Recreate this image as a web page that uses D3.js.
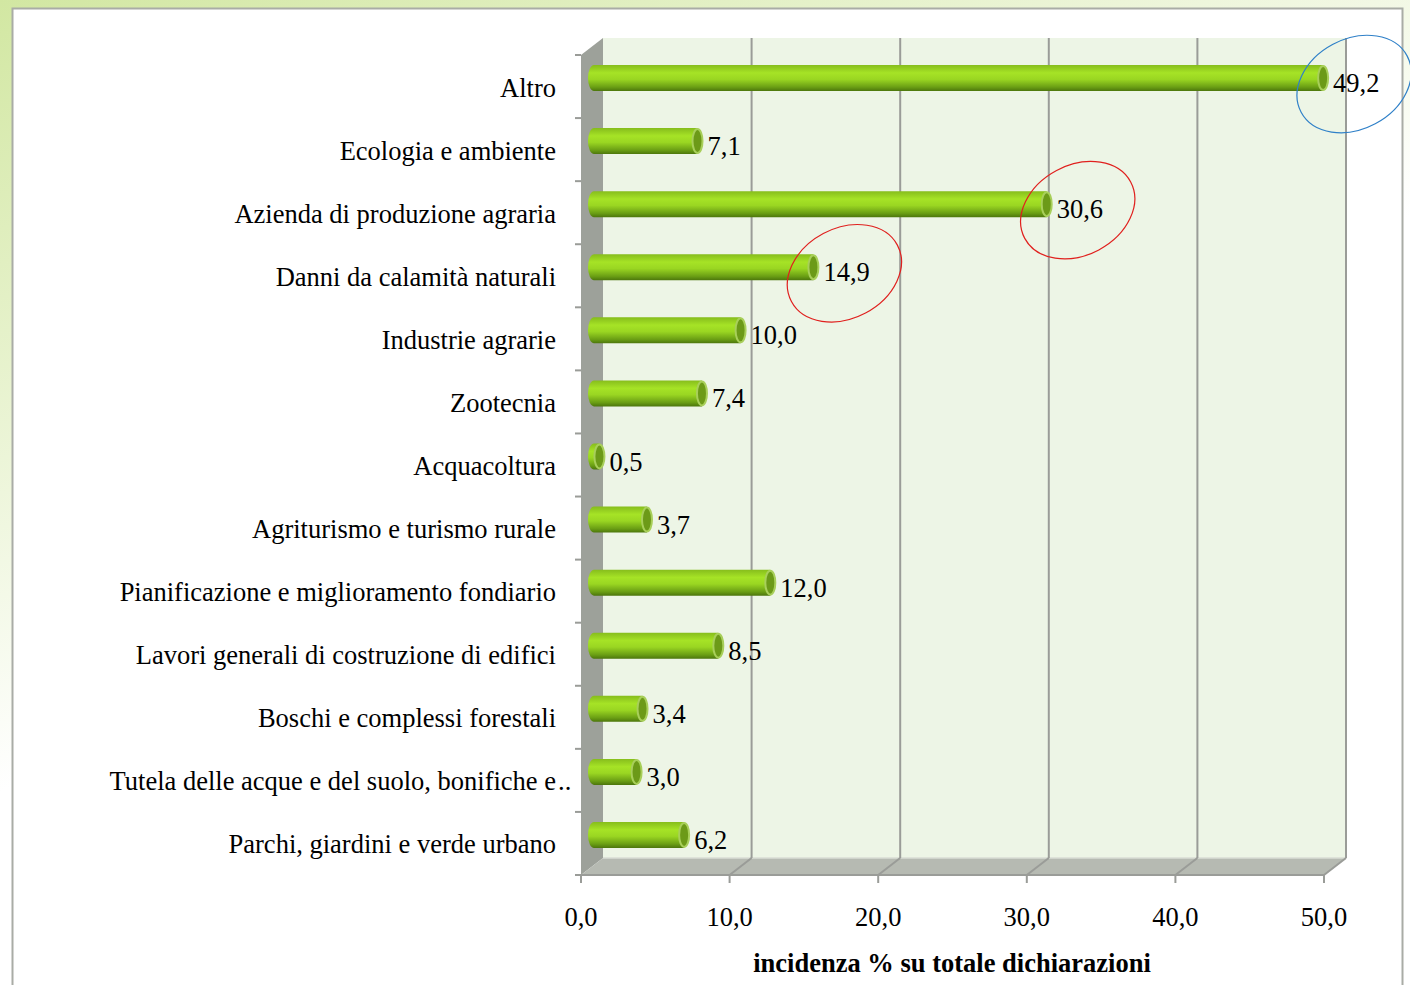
<!DOCTYPE html>
<html>
<head>
<meta charset="utf-8">
<script src="https://cdn.jsdelivr.net/npm/d3@7"></script>
<style>
  body { margin: 0; background: #fff; }
  svg { display: block; }
  text { font-family: 'Liberation Serif', 'Times New Roman', serif; font-size: 26.5px; fill: #000; }
</style>
</head>
<body>
<svg width="1410" height="985"></svg>
<script>
// data
var categories = [
    "Altro",
    "Ecologia e ambiente",
    "Azienda di produzione agraria",
    "Danni da calamità naturali",
    "Industrie agrarie",
    "Zootecnia",
    "Acquacoltura",
    "Agriturismo e turismo rurale",
    "Pianificazione e miglioramento fondiario",
    "Lavori generali di costruzione di edifici",
    "Boschi e complessi forestali",
    "Tutela delle acque e del suolo, bonifiche e..",
    "Parchi, giardini e verde urbano"
];
var values = [49.2, 7.1, 30.6, 14.9, 10.0, 7.4, 0.5, 3.7, 12.0, 8.5, 3.4, 3.0, 6.2];
var xTicks = [0, 10, 20, 30, 40, 50];
var axisTitle = "incidenza % su totale dichiarazioni";
// circled values (index into categories, stroke colour)
var marked = [[0, "#2f80c8"], [2, "#e0201e"], [3, "#e0201e"]];

var svg = d3.select("svg"),
    width = +svg.attr("width"),
    height = +svg.attr("height");

var defs = svg.append("defs");

var bg = defs.append("linearGradient").attr("id", "bgGrad")
    .attr("x1", 0).attr("y1", 0).attr("x2", 0.35).attr("y2", 0.6);
bg.append("stop").attr("offset", "0%").attr("stop-color", "#d2e7a2");
bg.append("stop").attr("offset", "100%").attr("stop-color", "#ffffff");

var barGrad = defs.append("linearGradient").attr("id", "barGrad")
    .attr("x1", 0).attr("y1", 0).attr("x2", 0).attr("y2", 1);
barGrad.append("stop").attr("offset", "0%").attr("stop-color", "#86bd1c");
barGrad.append("stop").attr("offset", "30%").attr("stop-color", "#a6e326");
barGrad.append("stop").attr("offset", "55%").attr("stop-color", "#9ad622");
barGrad.append("stop").attr("offset", "85%").attr("stop-color", "#6a9e14");
barGrad.append("stop").attr("offset", "100%").attr("stop-color", "#4c760c");

// page background and white panel
svg.append("rect").attr("width", width).attr("height", height).attr("fill", "url(#bgGrad)");
svg.append("rect")
    .attr("x", 12.5).attr("y", 8.5).attr("width", 1390).attr("height", 1000)
    .attr("fill", "#fff").attr("stroke", "#a9aca6").attr("stroke-width", 2);

// 3d frame geometry
var dx = 22, dy = -17;
var top0 = 55, bottom0 = 875;

var x = d3.scaleLinear().domain([0, 50]).range([581, 1324]);
var y = d3.scaleBand().domain(categories).range([top0, bottom0]);

var g = svg.append("g");

// back wall
g.append("rect")
    .attr("x", x(0) + dx).attr("y", top0 + dy)
    .attr("width", x(50) - x(0)).attr("height", bottom0 - top0)
    .attr("fill", "#edf5e6");

// left wall
g.append("polygon")
    .attr("points", [[x(0), top0], [x(0) + dx, top0 + dy], [x(0) + dx, bottom0 + dy], [x(0), bottom0]].join(" "))
    .attr("fill", "#9da19a");

// floor
g.append("polygon")
    .attr("points", [[x(0), bottom0], [x(0) + dx, bottom0 + dy], [x(50) + dx, bottom0 + dy], [x(50), bottom0]].join(" "))
    .attr("fill", "#b6bab2");
g.append("line")
    .attr("x1", x(0) + dx).attr("x2", x(50) + dx)
    .attr("y1", bottom0 + dy).attr("y2", bottom0 + dy)
    .attr("stroke", "#d8dcd4").attr("stroke-width", 1.5);

// gridlines on wall and floor
xTicks.slice(1).forEach(function(t) {
    g.append("line")
        .attr("x1", x(t) + dx).attr("x2", x(t) + dx)
        .attr("y1", top0 + dy).attr("y2", bottom0 + dy)
        .attr("stroke", "#9a9c98").attr("stroke-width", 2);
    g.append("line")
        .attr("x1", x(t)).attr("x2", x(t) + dx)
        .attr("y1", bottom0).attr("y2", bottom0 + dy)
        .attr("stroke", "#9a9c98").attr("stroke-width", 2);
});

// axes lines and ticks
g.append("line")
    .attr("x1", x(0) - 6).attr("x2", x(50))
    .attr("y1", bottom0).attr("y2", bottom0)
    .attr("stroke", "#9a9c98").attr("stroke-width", 2);
xTicks.forEach(function(t) {
    g.append("line")
        .attr("x1", x(t)).attr("x2", x(t))
        .attr("y1", bottom0).attr("y2", bottom0 + 8)
        .attr("stroke", "#9a9c98").attr("stroke-width", 2);
});
y.domain().forEach(function(c) {
    g.append("line")
        .attr("x1", x(0) - 6).attr("x2", x(0))
        .attr("y1", y(c)).attr("y2", y(c))
        .attr("stroke", "#9a9c98").attr("stroke-width", 2);
});

var fmt = function(v) { return d3.format(".1f")(v).replace(".", ","); };

// x tick labels
g.selectAll(".xlab").data(xTicks).enter().append("text")
    .attr("x", function(d) { return x(d); })
    .attr("y", 917)
    .attr("text-anchor", "middle")
    .attr("dominant-baseline", "central")
    .text(fmt);

// category labels
g.selectAll(".ylab").data(categories).enter().append("text")
    .attr("x", 556)
    .attr("y", function(d) { return y(d) + y.bandwidth() / 2 + 1; })
    .attr("text-anchor", "end")
    .attr("dominant-baseline", "central")
    .text(function(d) { return d.replace(/\.\.$/, ""); })
    .filter(function(d) { return /\.\.$/.test(d); })
    .each(function() {
        g.append("text")
            .attr("x", 558).attr("y", +d3.select(this).attr("y"))
            .attr("dominant-baseline", "central")
            .text("..");
    });

// cylinder bars at mid depth
var barH = 26, capRx = 6;
var bars = g.selectAll(".bar").data(categories).enter().append("g");
bars.each(function(c, i) {
    var v = values[i];
    var cy = y(c) + y.bandwidth() / 2 + dy / 2;
    var x0 = x(0) + dx / 2 + 2, x1 = x(v) + dx / 2;
    var s = d3.select(this);
    var p = "M" + x1 + "," + (cy - barH / 2) +
        "L" + x0 + "," + (cy - barH / 2) +
        "A" + capRx + "," + (barH / 2) + " 0 0 0 " + x0 + "," + (cy + barH / 2) +
        "L" + x1 + "," + (cy + barH / 2) + "Z";
    s.append("path").attr("d", p).attr("fill", "url(#barGrad)");
    s.append("ellipse")
        .attr("cx", x1).attr("cy", cy)
        .attr("rx", capRx - 1).attr("ry", barH / 2 - 1)
        .attr("fill", "#6c9a18")
        .attr("stroke", "#a8cf5a").attr("stroke-width", 2);
    s.append("text")
        .attr("x", x1 + capRx + 4)
        .attr("y", cy + 5)
        .attr("dominant-baseline", "central")
        .text(fmt(v));
});

// hand-drawn circles around some values
marked.forEach(function(m) {
    var c = categories[m[0]];
    var cx = x(values[m[0]]) + dx / 2 + 31;
    var cy = y(c) + y.bandwidth() / 2 + dy / 2 + 6;
    svg.append("ellipse")
        .attr("cx", cx).attr("cy", cy)
        .attr("rx", 60).attr("ry", 45)
        .attr("transform", "rotate(-28," + cx + "," + cy + ")")
        .attr("fill", "none")
        .attr("stroke", m[1]).attr("stroke-width", 1.2);
});

// axis title
svg.append("text")
    .attr("x", 952).attr("y", 963)
    .attr("text-anchor", "middle")
    .attr("dominant-baseline", "central")
    .style("font-weight", "bold")
    .text(axisTitle);
</script>
</body>
</html>
